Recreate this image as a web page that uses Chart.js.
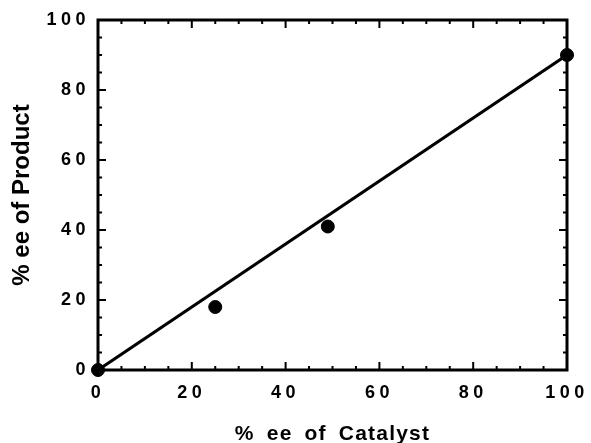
<!DOCTYPE html>
<html>
<head>
<meta charset="utf-8">
<script src="https://cdn.jsdelivr.net/npm/chart.js@4.4.0/dist/chart.umd.min.js"></script>
<style>
  body { margin: 0; background: #fff; }
  #wrap { width: 591px; height: 443px; }
</style>
</head>
<body>
<div id="wrap"><canvas id="eeChart" width="591" height="443"></canvas></div>
<script>
// measured points
const catalystEE = [0, 25, 49, 100];
const productEE = [0, 18, 41, 90];
// fitted line end points
const fitX = [0, 100];
const fitY = [0, 90];

const FONT = "'Liberation Sans', Arial, Helvetica, sans-serif";

// wraps the scale draw helpers so titles and tick labels get the wide spacing of the original
const spacing = {
    id: 'spacing',
    afterUpdate(chart) {
        const ctx = chart.ctx;
        const wrap = (scale, name, ls, ws) => {
            if (scale['_w' + name]) return;
            const orig = scale[name];
            scale[name] = function (...args) {
                ctx.letterSpacing = ls;
                ctx.wordSpacing = ws;
                orig.apply(this, args);
                ctx.letterSpacing = '0px';
                ctx.wordSpacing = '0px';
            };
            scale['_w' + name] = true;
        };
        wrap(chart.scales.x, 'drawLabels', '4.5px', '0px');
        wrap(chart.scales.y, 'drawLabels', '4.5px', '0px');
        wrap(chart.scales.x, 'drawTitle', '1.2px', '5px');
        wrap(chart.scales.y, 'drawTitle', '0px', '0px');
    }
};

// frame with inward ticks on all four sides
const frame = {
    id: 'frame',
    afterDraw(chart) {
        const {ctx, chartArea: a, scales: {x, y}} = chart;
        ctx.save();
        ctx.strokeStyle = '#000';
        ctx.lineWidth = 3;
        ctx.strokeRect(a.left, a.top, a.right - a.left, a.bottom - a.top);
        ctx.lineWidth = 2;
        ctx.beginPath();
        for (let v = 5; v < 100; v += 5) {
            const len = v % 20 === 0 ? 8 : 4;
            const px = x.getPixelForValue(v);
            ctx.moveTo(px, a.bottom); ctx.lineTo(px, a.bottom - len);
            ctx.moveTo(px, a.top); ctx.lineTo(px, a.top + len);
            const py = y.getPixelForValue(v);
            ctx.moveTo(a.left, py); ctx.lineTo(a.left + len, py);
            ctx.moveTo(a.right, py); ctx.lineTo(a.right - len, py);
        }
        ctx.stroke();
        ctx.restore();
    }
};

new Chart(document.getElementById('eeChart'), {
    type: 'scatter',
    data: {
        datasets: [
            {
                label: 'data',
                data: catalystEE.map((v, i) => ({x: v, y: productEE[i]})),
                backgroundColor: '#000',
                borderColor: '#000',
                pointRadius: 6.5,
                clip: false
            },
            {
                label: 'fit',
                type: 'line',
                data: fitX.map((v, i) => ({x: v, y: fitY[i]})),
                borderColor: '#000',
                borderWidth: 3.2,
                pointRadius: 0,
                clip: false
            }
        ]
    },
    options: {
        responsive: false,
        animation: false,
        layout: {padding: {top: 20, right: 24, left: 0, bottom: 0}},
        plugins: {legend: {display: false}, tooltip: {enabled: false}},
        scales: {
            x: {
                type: 'linear',
                min: 0, max: 100,
                grid: {display: false},
                border: {display: false},
                ticks: {
                    stepSize: 20,
                    color: '#000',
                    padding: 4,
                    maxRotation: 0,
                    font: {family: FONT, size: 18, weight: 'bold'}
                },
                title: {
                    display: true,
                    text: '% ee of Catalyst',
                    color: '#000',
                    padding: 0,
                    font: {family: FONT, size: 21, weight: 'bold', lineHeight: 0.8}
                },
                afterFit(scale) { scale.height = 73; }
            },
            y: {
                type: 'linear',
                min: 0, max: 100,
                grid: {display: false},
                border: {display: false},
                ticks: {
                    stepSize: 20,
                    color: '#000',
                    padding: 0,
                    font: {family: FONT, size: 18, weight: 'bold'}
                },
                title: {
                    display: true,
                    text: '% ee of Product',
                    color: '#000',
                    padding: 10,
                    font: {family: FONT, size: 24, weight: 'bold', lineHeight: 1}
                },
                afterFit(scale) { scale.width = 98; }
            }
        }
    },
    plugins: [spacing, frame]
});
</script>
</body>
</html>
